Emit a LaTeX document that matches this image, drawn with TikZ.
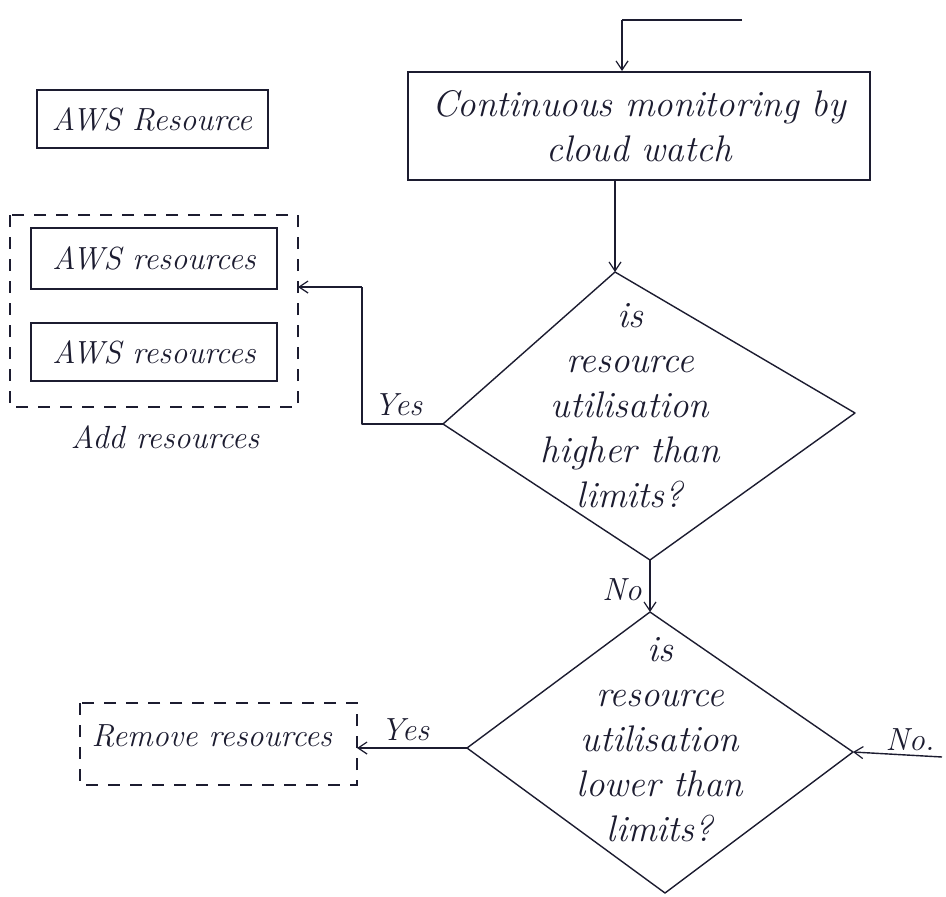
\documentclass[tikz,border=0pt]{standalone}
\usetikzlibrary{arrows.meta}
\definecolor{ink}{RGB}{28,28,48}
\begin{document}
\begin{tikzpicture}[x=1pt,y=-1pt,
  every node/.style={text=ink,font=\fontsize{32}{44}\selectfont\itshape},
  big/.style={font=\fontsize{37}{45}\selectfont\itshape},
  box/.style={draw=ink,line width=2pt,inner sep=2pt},
  dbox/.style={draw=ink,line width=1.4pt,dash pattern=on 12pt off 10pt},
  dline/.style={draw=ink,line width=1.4pt,line join=round},
  conn/.style={draw=ink,line width=1.4pt,-{Straight Barb[length=9pt,width=12pt,line width=1.2pt]}},
  lbl/.style={font=\fontsize{32}{36}\selectfont\itshape}]
\useasboundingbox (0,0) rectangle (946,897);
\fill[white] (0,0) rectangle (946,897);

% top process
\node[box,minimum width=231,minimum height=58] (awsr) at (152,119) {AWS Resource};
\node[box,big,minimum width=462,minimum height=108,align=center] (mon) at (639,126)
  {Continuous monitoring by\\cloud watch};

% feed from top
\coordinate (feedA) at (742,20);
\coordinate (feedB) at (622,20);
\draw[dline,line width=2pt] (feedA) -- (feedB);
\draw[conn] (feedB) -- (feedB |- mon.north);

% decision 1
\coordinate (d1t) at (615,272);
\coordinate (d1l) at (443,424);
\coordinate (d1r) at (855,413);
\coordinate (d1b) at (650,560);
\draw[dline] (d1t) -- (d1r) -- (d1b) -- (d1l) -- cycle;
\node[big,align=center] (d1txt) at (630,406) {is\\resource\\utilisation\\higher than\\limits?};
\draw[conn] (mon.south -| d1t) -- (d1t);

% add resources group
\node[box,minimum width=246,minimum height=61] (r1) at (154,258) {AWS resources};
\node[box,minimum width=246,minimum height=58] (r2) at (154,352) {AWS resources};
\draw[dbox] (10,215) rectangle (298,407);
\coordinate (grpR) at (298,287);
\node[lbl] (addl) at (165,437) {Add resources};

% yes branch 1
\coordinate (y1a) at (362,424);
\coordinate (y1b) at (362,287);
\draw[dline] (d1l) -- (y1a) -- (y1b);
\draw[conn] (y1b) -- (grpR);
\node[lbl] (yes1) at (398,405) {Yes};

% decision 2
\coordinate (d2t) at (650,612);
\coordinate (d2l) at (467,748);
\coordinate (d2r) at (853,752);
\coordinate (d2b) at (665,893);
\draw[dline] (d2t) -- (d2r) -- (d2b) -- (d2l) -- cycle;
\node[big,align=center] (d2txt) at (660,740) {is\\resource\\utilisation\\lower than\\limits?};
\draw[conn] (d1b) -- (d2t);
\node[lbl] (no1) at (622,590) {No};

% remove resources
\draw[dbox] (80,703) rectangle (357,785);
\coordinate (remR) at (357,748);
\node[anchor=west] (rem) at (88,736) {Remove resources};
\draw[conn] (d2l) -- (remR);
\node[lbl] (yes2) at (405,730) {Yes};

% no branch 2
\coordinate (no2end) at (942,757);
\draw[conn] (no2end) -- (d2r);
\node[lbl] (no2) at (910,740) {No.};
\end{tikzpicture}
\end{document}
